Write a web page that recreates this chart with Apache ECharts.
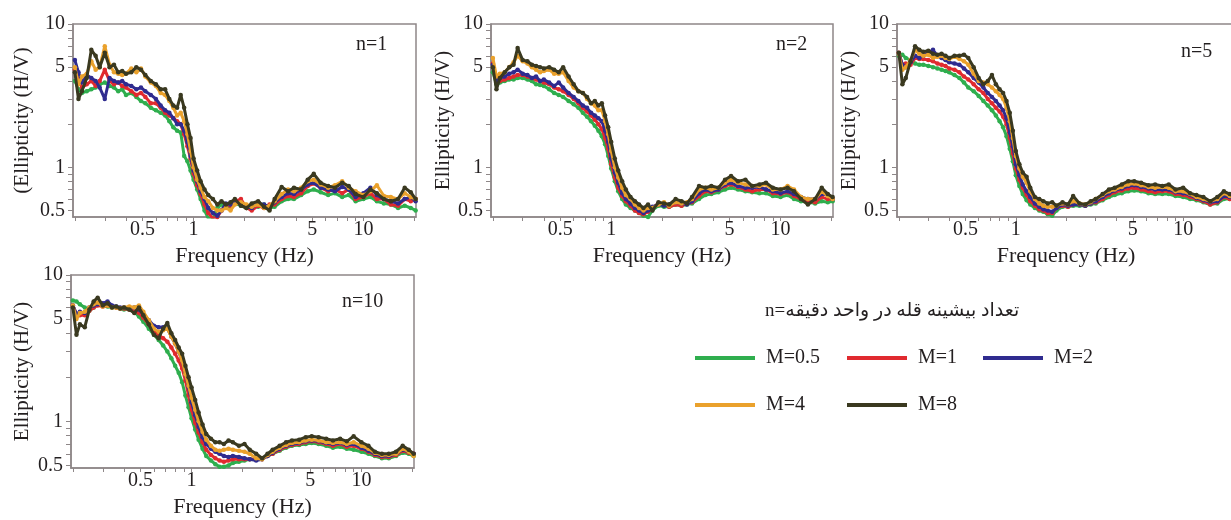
<!DOCTYPE html>
<html>
<head>
<meta charset="utf-8">
<script src="https://cdn.jsdelivr.net/npm/echarts@6/dist/echarts.min.js"></script>
<style>
html,body{margin:0;padding:0;background:#fff;overflow:hidden;}
#chart{width:1240px;height:520px;}
</style>
</head>
<body>
<div id="chart"></div>
<script>
// Frequencies (Hz), shared by all curves
var freq = [0.20,0.21,0.22,0.235,0.25,0.265,0.28,0.30,0.32,0.34,0.36,0.38,0.40,0.43,0.46,0.49,0.52,0.56,0.60,0.64,0.68,0.72,0.76,0.80,0.84,0.88,0.92,0.96,1.00,1.05,1.10,1.16,1.22,1.30,1.38,1.46,1.55,1.65,1.75,1.9,2.05,2.2,2.4,2.6,2.8,3.0,3.3,3.6,3.9,4.3,4.7,5.1,5.6,6.2,6.8,7.5,8.2,9.0,10.0,11.0,12.0,13.2,14.5,16.0,17.5,19.0,20.3];

var seriesNames = ['M=0.5','M=1','M=2','M=4','M=8'];
var panelLabels = ['n=1','n=2','n=5','n=10'];
var xTickValues = [0.2,0.3,0.4,0.5,0.6,0.7,0.8,0.9,1,2,3,4,5,6,7,8,9,10,20];
var xLabelValues = [0.5,1,5,10];
var yTickValues = [0.5,0.6,0.7,0.8,0.9,1,2,3,4,5,6,7,8,9,10];
var yLabelValues = [0.5,1,5,10];

// n=1
var n1_m05 = [4.0,3.5,3.3,3.4,3.5,3.6,3.8,3.9,3.7,3.6,3.4,3.5,3.2,3.3,3.1,2.9,2.8,2.6,2.5,2.4,2.3,2.1,1.9,1.8,1.75,1.2,1.1,0.95,0.82,0.7,0.6,0.5,0.44,0.44,0.52,0.55,0.53,0.52,0.56,0.54,0.52,0.54,0.53,0.55,0.52,0.53,0.58,0.6,0.6,0.64,0.68,0.7,0.67,0.64,0.66,0.62,0.64,0.58,0.6,0.62,0.58,0.56,0.55,0.52,0.54,0.52,0.5];
var n1_m1  = [4.8,4.2,3.6,3.8,4.0,3.7,4.0,4.8,4.0,3.8,3.9,3.7,3.6,3.4,3.2,3.3,3.1,2.8,2.8,2.6,2.4,2.3,2.2,2.1,2.0,1.7,1.4,1.15,0.9,0.75,0.65,0.55,0.48,0.44,0.45,0.5,0.55,0.54,0.58,0.6,0.52,0.5,0.54,0.52,0.55,0.55,0.6,0.63,0.62,0.66,0.74,0.77,0.72,0.68,0.7,0.66,0.7,0.6,0.62,0.66,0.6,0.6,0.55,0.54,0.6,0.58,0.6];
var n1_m2  = [5.6,4.6,3.9,4.4,4.2,4.0,3.6,3.0,4.2,4.0,3.9,4.0,3.8,3.7,3.5,3.6,3.4,3.2,3.0,2.7,2.5,2.4,2.2,2.0,2.0,1.8,1.5,1.2,0.95,0.8,0.68,0.6,0.52,0.48,0.46,0.5,0.56,0.55,0.57,0.55,0.53,0.52,0.56,0.55,0.53,0.57,0.62,0.66,0.65,0.7,0.76,0.78,0.72,0.7,0.68,0.73,0.7,0.62,0.66,0.72,0.64,0.6,0.58,0.56,0.6,0.62,0.58];
var n1_m4  = [5.0,3.8,4.3,4.5,5.5,4.8,5.0,7.0,5.2,4.6,4.5,4.4,4.5,4.9,4.6,4.9,4.3,3.9,3.7,3.3,3.2,2.9,2.6,2.3,2.4,2.1,1.7,1.3,1.0,0.82,0.72,0.62,0.58,0.52,0.5,0.5,0.52,0.5,0.55,0.57,0.55,0.53,0.55,0.52,0.54,0.58,0.65,0.7,0.68,0.72,0.8,0.82,0.76,0.72,0.75,0.8,0.72,0.68,0.64,0.68,0.75,0.63,0.62,0.6,0.66,0.62,0.6];
var n1_m8  = [4.6,3.0,3.4,4.2,6.6,6.0,5.0,6.3,5.0,5.2,4.6,4.7,4.5,4.6,5.0,4.8,4.4,4.0,3.8,3.5,3.5,3.0,2.7,2.6,3.2,2.6,2.0,1.6,1.15,0.95,0.8,0.7,0.64,0.6,0.55,0.58,0.55,0.57,0.6,0.54,0.52,0.56,0.58,0.53,0.5,0.6,0.73,0.68,0.72,0.7,0.82,0.9,0.78,0.74,0.72,0.78,0.74,0.65,0.62,0.7,0.66,0.6,0.58,0.6,0.72,0.67,0.6];

// n=2
var n2_m05 = [4.6,3.8,3.9,4.0,4.1,4.1,4.2,4.2,4.1,4.0,3.8,3.75,3.7,3.5,3.3,3.2,3.1,2.9,2.75,2.6,2.4,2.25,2.1,1.95,1.8,1.65,1.45,1.2,0.98,0.8,0.68,0.6,0.55,0.52,0.5,0.48,0.46,0.45,0.5,0.54,0.53,0.53,0.55,0.54,0.55,0.56,0.6,0.64,0.65,0.67,0.7,0.72,0.7,0.68,0.67,0.66,0.66,0.63,0.62,0.64,0.6,0.58,0.57,0.56,0.58,0.57,0.58];
var n2_m1  = [5.3,3.9,4.0,4.1,4.2,4.3,4.4,4.4,4.3,4.2,4.1,4.0,3.9,3.8,3.6,3.5,3.4,3.2,3.0,2.8,2.6,2.45,2.3,2.15,2.0,1.85,1.6,1.35,1.05,0.85,0.72,0.63,0.58,0.54,0.5,0.48,0.47,0.49,0.52,0.56,0.55,0.53,0.55,0.54,0.56,0.57,0.63,0.68,0.67,0.7,0.74,0.76,0.73,0.7,0.68,0.7,0.7,0.66,0.65,0.67,0.63,0.6,0.58,0.57,0.62,0.6,0.6];
var n2_m2  = [5.2,4.0,4.2,4.3,4.5,4.6,4.8,4.5,4.4,4.2,4.3,4.0,4.1,3.9,3.7,3.9,3.6,3.3,3.1,2.9,2.7,2.6,2.4,2.3,2.2,2.1,1.8,1.5,1.15,0.92,0.78,0.66,0.6,0.56,0.52,0.5,0.48,0.5,0.53,0.55,0.54,0.55,0.57,0.56,0.55,0.58,0.66,0.7,0.68,0.7,0.76,0.78,0.74,0.72,0.72,0.73,0.7,0.68,0.66,0.68,0.65,0.62,0.6,0.6,0.65,0.64,0.6];
var n2_m4  = [5.8,4.3,4.5,4.6,5.0,5.4,6.0,5.5,5.3,5.0,4.8,4.6,4.7,4.8,4.5,4.5,4.6,4.0,3.6,3.4,3.3,3.0,2.8,2.7,2.5,2.5,2.1,1.7,1.3,1.0,0.85,0.72,0.64,0.6,0.55,0.52,0.5,0.52,0.52,0.55,0.57,0.54,0.57,0.56,0.57,0.6,0.7,0.72,0.7,0.72,0.78,0.82,0.78,0.76,0.74,0.74,0.76,0.7,0.7,0.74,0.7,0.62,0.6,0.6,0.68,0.63,0.6];
var n2_m8  = [5.0,3.5,4.2,4.6,5.0,5.2,6.8,5.6,5.5,5.2,5.1,5.0,4.9,5.0,4.8,4.6,5.0,4.3,3.8,3.4,3.3,3.1,2.8,2.9,2.7,2.8,2.3,1.9,1.5,1.15,0.95,0.8,0.7,0.62,0.58,0.55,0.52,0.55,0.5,0.57,0.56,0.55,0.6,0.58,0.56,0.62,0.74,0.72,0.74,0.72,0.82,0.87,0.8,0.82,0.74,0.76,0.78,0.72,0.7,0.72,0.68,0.6,0.55,0.6,0.72,0.65,0.62];

// n=5
var n5_m05 = [6.0,6.1,5.8,5.6,5.3,5.2,5.2,5.1,5.0,4.9,4.8,4.7,4.6,4.4,4.2,3.9,3.6,3.4,3.15,2.9,2.7,2.5,2.3,2.1,1.9,1.65,1.35,1.1,0.88,0.74,0.65,0.59,0.55,0.52,0.5,0.49,0.47,0.46,0.5,0.53,0.53,0.54,0.54,0.54,0.55,0.56,0.59,0.62,0.64,0.66,0.68,0.69,0.68,0.66,0.65,0.65,0.65,0.63,0.62,0.6,0.59,0.57,0.55,0.56,0.6,0.6,0.59];
var n5_m1  = [6.3,5.2,5.3,5.2,5.8,5.7,5.7,5.6,5.5,5.3,5.2,5.1,4.9,4.8,4.6,4.3,4.1,3.8,3.5,3.3,3.0,2.8,2.6,2.45,2.25,2.0,1.6,1.25,0.98,0.82,0.72,0.64,0.58,0.54,0.51,0.5,0.48,0.48,0.52,0.54,0.53,0.55,0.55,0.54,0.56,0.57,0.6,0.64,0.67,0.69,0.71,0.72,0.7,0.68,0.67,0.68,0.68,0.65,0.64,0.62,0.6,0.58,0.55,0.57,0.62,0.6,0.6];
var n5_m2  = [6.2,5.2,5.0,5.4,6.0,5.8,6.0,6.3,6.6,6.0,5.8,5.6,5.4,5.3,5.2,4.9,4.6,4.2,3.9,3.6,3.3,3.1,2.9,2.7,2.5,2.2,1.75,1.4,1.05,0.88,0.76,0.68,0.62,0.56,0.53,0.51,0.5,0.49,0.52,0.55,0.54,0.55,0.55,0.54,0.56,0.58,0.62,0.66,0.69,0.71,0.74,0.75,0.73,0.71,0.7,0.7,0.7,0.67,0.66,0.64,0.61,0.59,0.57,0.58,0.63,0.62,0.6];
var n5_m4  = [6.2,4.8,5.0,5.6,6.6,6.2,6.0,6.1,5.8,5.9,6.0,5.8,5.7,5.9,5.7,5.5,5.2,4.5,4.0,3.9,3.8,3.6,3.4,3.2,3.0,2.6,2.1,1.6,1.2,0.98,0.86,0.78,0.68,0.6,0.56,0.54,0.53,0.53,0.54,0.56,0.55,0.58,0.56,0.55,0.57,0.6,0.64,0.68,0.7,0.73,0.76,0.77,0.75,0.73,0.72,0.73,0.72,0.68,0.68,0.65,0.62,0.6,0.58,0.6,0.66,0.63,0.6];
var n5_m8  = [6.3,3.8,4.2,5.5,7.0,6.6,6.4,6.5,6.2,6.1,6.2,6.0,5.8,6.0,6.0,6.1,5.8,5.0,4.2,3.8,4.0,4.4,3.8,3.5,3.3,2.9,2.4,1.8,1.3,1.05,0.92,0.86,0.72,0.62,0.6,0.58,0.56,0.57,0.54,0.57,0.55,0.63,0.56,0.55,0.58,0.6,0.65,0.7,0.72,0.76,0.8,0.8,0.78,0.75,0.76,0.74,0.76,0.7,0.72,0.66,0.64,0.62,0.58,0.62,0.68,0.65,0.62];

// n=10
var n10_m05 = [6.7,6.6,6.3,6.0,5.7,6.0,6.3,6.2,6.1,6.0,6.0,5.9,5.8,5.8,5.6,5.2,4.8,4.3,3.9,3.6,3.3,3.0,2.7,2.4,2.15,1.85,1.5,1.25,1.05,0.88,0.75,0.65,0.58,0.54,0.51,0.49,0.49,0.5,0.52,0.53,0.54,0.55,0.55,0.56,0.58,0.6,0.63,0.66,0.68,0.69,0.7,0.71,0.7,0.68,0.66,0.67,0.65,0.64,0.62,0.6,0.58,0.56,0.56,0.58,0.61,0.6,0.58];
var n10_m1  = [6.2,5.4,5.3,5.3,5.7,6.0,6.2,6.1,6.2,6.1,6.0,5.9,5.9,5.8,5.7,5.5,5.1,4.6,4.2,3.9,3.7,3.5,3.2,2.9,2.6,2.3,1.9,1.5,1.2,0.98,0.84,0.72,0.64,0.59,0.56,0.54,0.53,0.54,0.55,0.55,0.55,0.55,0.55,0.55,0.58,0.6,0.64,0.67,0.69,0.7,0.72,0.73,0.72,0.7,0.68,0.7,0.67,0.68,0.65,0.62,0.59,0.57,0.57,0.59,0.63,0.61,0.6];
var n10_m2  = [6.2,5.4,5.6,5.5,6.0,6.2,6.3,6.4,6.6,6.2,6.1,6.0,6.0,5.9,6.0,5.8,5.4,4.9,4.5,4.4,4.4,4.3,3.8,3.4,3.0,2.6,2.1,1.7,1.35,1.1,0.92,0.78,0.7,0.65,0.62,0.6,0.58,0.57,0.58,0.57,0.56,0.55,0.54,0.55,0.58,0.61,0.65,0.68,0.7,0.71,0.73,0.74,0.73,0.71,0.7,0.71,0.69,0.7,0.66,0.63,0.6,0.58,0.58,0.6,0.64,0.62,0.6];
var n10_m4  = [6.2,5.0,5.5,5.6,6.0,6.3,6.5,6.1,6.2,6.0,6.0,5.9,6.0,6.1,6.0,6.2,5.6,4.9,4.3,4.1,4.2,4.3,3.8,3.4,3.0,2.6,2.1,1.75,1.45,1.2,1.0,0.85,0.75,0.68,0.64,0.63,0.64,0.65,0.64,0.63,0.62,0.6,0.56,0.55,0.59,0.62,0.66,0.69,0.71,0.72,0.74,0.75,0.74,0.72,0.71,0.72,0.7,0.72,0.68,0.65,0.61,0.59,0.59,0.6,0.65,0.62,0.58];
var n10_m8  = [6.0,3.9,4.6,4.4,5.8,6.6,7.0,6.2,6.4,6.0,6.1,5.9,6.0,5.8,5.5,6.0,5.3,4.6,3.9,3.7,4.3,4.7,4.0,3.6,3.2,2.9,2.4,2.0,1.7,1.4,1.15,0.95,0.82,0.76,0.72,0.72,0.7,0.74,0.72,0.68,0.7,0.64,0.6,0.56,0.6,0.64,0.68,0.72,0.74,0.75,0.78,0.79,0.78,0.76,0.74,0.76,0.73,0.79,0.72,0.68,0.62,0.6,0.6,0.62,0.68,0.64,0.6];

var panelData = [
  [n1_m05, n1_m1, n1_m2, n1_m4, n1_m8],
  [n2_m05, n2_m1, n2_m2, n2_m4, n2_m8],
  [n5_m05, n5_m1, n5_m2, n5_m4, n5_m8],
  [n10_m05, n10_m1, n10_m2, n10_m4, n10_m8]
];

// ---- layout & style (kept separate from the data) ----
var colors = ['#2fae4e','#e02a2f','#2f2b8f','#eaa12c','#3a3920'];
var SERIF = '"Liberation Serif","Times New Roman",serif';
var TXT = '#231f20';
var AXC = '#8e8788';
var layout = [
  {grid:{left:73, top:24, width:343, height:193}, ymin:0.45, yName:'(Ellipticity (H/V)', yGap:40, lab:{left:356, top:35}},
  {grid:{left:491, top:24, width:342, height:193}, ymin:0.45, yName:'Ellipticity (H/V)', yGap:36, lab:{left:776, top:35}},
  {grid:{left:897, top:24, width:338, height:193}, ymin:0.45, yName:'Ellipticity (H/V)', yGap:30, lab:{left:1181, top:42}},
  {grid:{left:71, top:275, width:343, height:193}, ymin:0.48, yName:'Ellipticity (H/V)', yGap:38, lab:{left:342, top:292}}
];
var legendPos = [
  {left:695, top:348}, {left:847, top:348}, {left:983, top:348},
  {left:695, top:395}, {left:847, top:395}
];

function fmt(v){ return String(+(+v).toPrecision(3)); }

var grids = [], xAxes = [], yAxes = [], series = [], titles = [], legends = [];
layout.forEach(function(p, i){
  grids.push(Object.assign({show:true, borderColor:AXC, borderWidth:1.5, backgroundColor:'#fff'}, p.grid));
  xAxes.push({
    type:'log', logBase:10, gridIndex:i, min:0.195, max:20.4,
    name:'Frequency (Hz)', nameLocation:'middle', nameGap:28,
    nameTextStyle:{fontFamily:SERIF, fontSize:22, color:TXT},
    axisLine:{show:true, lineStyle:{color:AXC, width:1.5}},
    axisTick:{show:true, inside:false, length:4, customValues:xTickValues, lineStyle:{color:AXC}},
    axisLabel:{customValues:xLabelValues, margin:3, fontFamily:SERIF, fontSize:20, color:TXT, formatter:fmt},
    splitLine:{show:false}, minorTick:{show:false}
  });
  yAxes.push({
    type:'log', logBase:10, gridIndex:i, min:p.ymin, max:10,
    name:p.yName, nameLocation:'middle', nameGap:p.yGap,
    nameTextStyle:{fontFamily:SERIF, fontSize:21, color:TXT},
    axisLine:{show:true, lineStyle:{color:AXC, width:1.5}},
    axisTick:{show:true, inside:false, length:5, customValues:yTickValues, lineStyle:{color:AXC}},
    axisLabel:{customValues:yLabelValues, margin:8, fontFamily:SERIF, fontSize:20, color:TXT, formatter:fmt},
    splitLine:{show:false}, minorTick:{show:false}
  });
  titles.push({text:panelLabels[i], left:p.lab.left, top:p.lab.top, padding:0,
    textStyle:{fontFamily:SERIF, fontSize:20, fontWeight:'normal', color:TXT}});
  panelData[i].forEach(function(arr, k){
    series.push({
      name:seriesNames[k], type:'line', xAxisIndex:i, yAxisIndex:i,
      data: freq.map(function(f, j){ return [f, arr[j]]; }),
      symbol:'circle', symbolSize:4.5, showSymbol:true,
      lineStyle:{color:colors[k], width:3},
      itemStyle:{color:colors[k]},
      clip:true, z:2+k, animation:false
    });
  });
});

seriesNames.forEach(function(nm, k){
  legends.push({
    data:[{name:nm, icon:'rect'}], left:legendPos[k].left, top:legendPos[k].top,
    itemWidth:60, itemHeight:4, padding:0, selectedMode:false,
    textStyle:{fontFamily:SERIF, fontSize:20, color:TXT, padding:[0,0,0,6]}
  });
});

var chart = echarts.init(document.getElementById('chart'), null, {renderer:'canvas'});
chart.setOption({
  animation:false,
  backgroundColor:'#fff',
  color:colors,
  title:titles,
  legend:legends,
  grid:grids,
  xAxis:xAxes,
  yAxis:yAxes,
  series:series,
  graphic:[{
    type:'text', left:765, top:302,
    style:{text:'n=تعداد بیشینه قله در واحد دقیقه', font:'19px "Liberation Serif","DejaVu Sans",serif', fill:TXT}
  }]
});
</script>
</body>
</html>
